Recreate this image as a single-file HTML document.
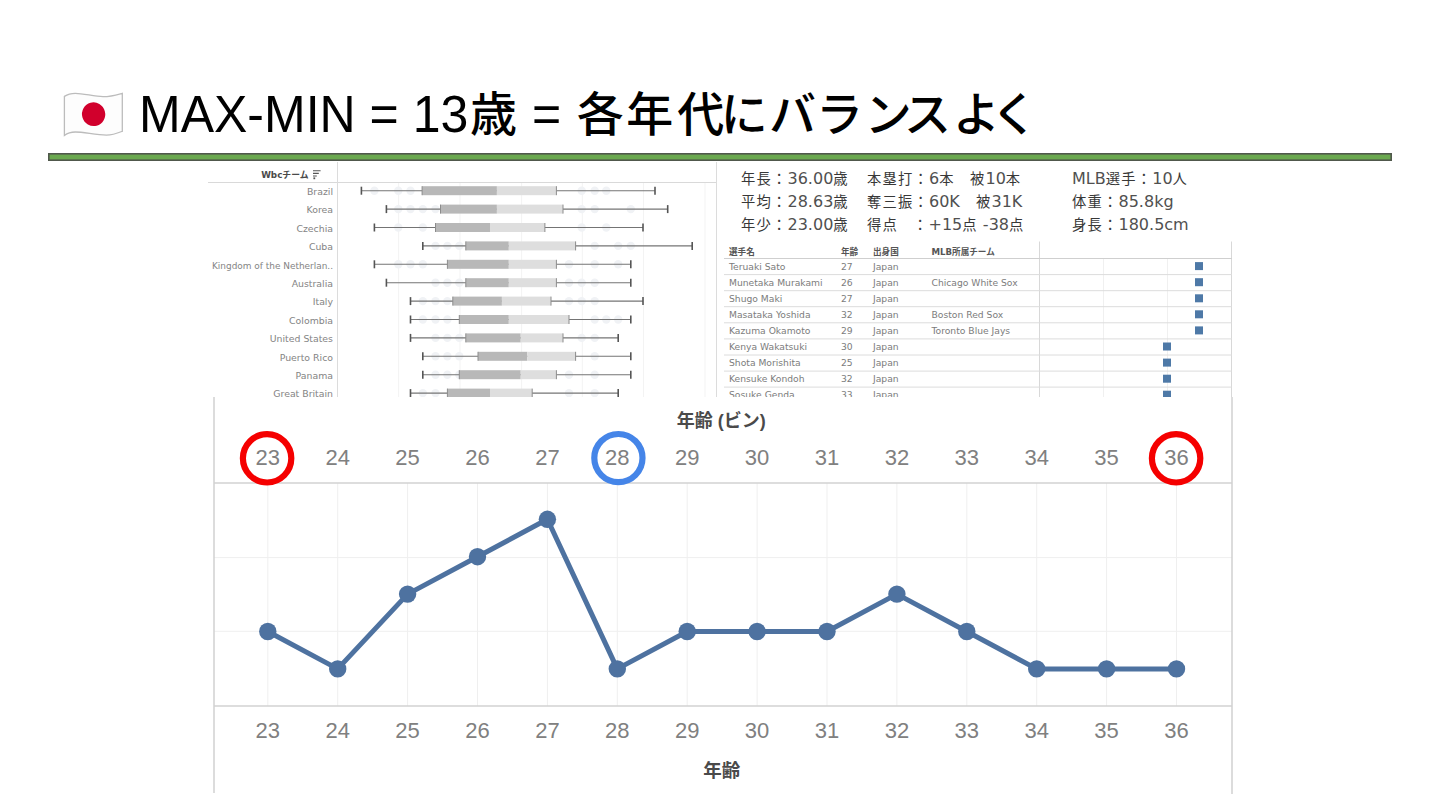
<!DOCTYPE html>
<html lang="ja"><head><meta charset="utf-8"><title>MAX-MIN = 13歳</title>
<style>
html,body{margin:0;padding:0;background:#fff;}
body{width:1440px;height:810px;position:relative;overflow:hidden;font-family:"Liberation Sans", "Noto Sans CJK JP", sans-serif;}
.a{position:absolute;white-space:nowrap;}
.tl{font-family:"Liberation Sans",sans-serif;font-size:50px;color:#000;line-height:1;transform:scaleY(1.03);transform-origin:0 0;}
.tj{font-family:"Liberation Sans","Noto Sans CJK JP",sans-serif;font-size:47px;font-weight:500;color:#000;line-height:1;}
.st{color:#383838;line-height:16px;height:16px;}
.sj{font-family:"Liberation Sans","Noto Sans CJK JP",sans-serif;font-size:14.3px;letter-spacing:1.2px;}
.sl{font-family:"DejaVu Sans",sans-serif;font-size:16px;color:#505050;}
</style></head><body>
<svg class="a" style="left:58px;top:86px" width="72" height="56" viewBox="0 0 72 56">
<path d="M6.4,10.4 Q11,7.3 17.3,7.3 C26,7.3 36,10.7 45,10.7 C54,10.7 60,8.5 64.3,7.3 L64.3,45.3 C60,47 55,49.1 48.4,49.1 C38,49.1 26,46 17.3,46 Q11,46 6.4,49.4 Z" fill="#fdfdfd" stroke="#bcbcbc" stroke-width="1.3"/>
<ellipse cx="35.6" cy="28.2" rx="11.6" ry="11.9" transform="rotate(-15 35.6 28.2)" fill="#d1002c"/>
</svg>
<div class="a tl" style="left:139px;top:89px">MAX-MIN = 13</div>
<div class="a tj" style="left:470px;top:91px">歳</div>
<div class="a tl" style="left:532px;top:89px">=</div>
<span class="a tj" style="left:576.7px;top:91px">各</span><span class="a tj" style="left:626.3px;top:91px">年</span><span class="a tj" style="left:677.3px;top:91px">代</span><span class="a tj" style="left:720.7px;top:91px">に</span><span class="a tj" style="left:769.0px;top:91px">バ</span><span class="a tj" style="left:816.0px;top:91px">ラ</span><span class="a tj" style="left:864.7px;top:91px">ン</span><span class="a tj" style="left:904.0px;top:91px">ス</span><span class="a tj" style="left:953.0px;top:91px">よ</span><span class="a tj" style="left:991.0px;top:91px">く</span>
<svg class="a" style="left:0;top:150px" width="1440" height="14" viewBox="0 150 1440 14"><rect x="48.8" y="153.8" width="1342.4" height="6.4" fill="#6aa84f" stroke="#50584c" stroke-width="1.6"/></svg>
<svg class="a" style="left:0;top:0" width="1440" height="397" viewBox="0 0 1440 397">
<line x1="398.6" y1="183" x2="398.6" y2="397" stroke="#f3f3f3" stroke-width="1"/>
<line x1="460.0" y1="183" x2="460.0" y2="397" stroke="#f3f3f3" stroke-width="1"/>
<line x1="521.6" y1="183" x2="521.6" y2="397" stroke="#f3f3f3" stroke-width="1"/>
<line x1="582.3" y1="183" x2="582.3" y2="397" stroke="#f3f3f3" stroke-width="1"/>
<line x1="643.5" y1="183" x2="643.5" y2="397" stroke="#f3f3f3" stroke-width="1"/>
<line x1="705.0" y1="183" x2="705.0" y2="397" stroke="#f3f3f3" stroke-width="1"/>
<line x1="208" y1="182.5" x2="717" y2="182.5" stroke="#d9d9d9" stroke-width="1"/>
<line x1="337.5" y1="162" x2="337.5" y2="397" stroke="#dcdcdc" stroke-width="1"/>
<line x1="716.5" y1="162" x2="716.5" y2="397" stroke="#dcdcdc" stroke-width="1"/>
<text x="308.5" y="177.6" font-family='"DejaVu Sans","Noto Sans CJK JP",sans-serif' font-size="8.8" font-weight="bold" fill="#4a4a4a" text-anchor="end">Wbcチーム</text>
<path d="M313 170.8h7.6M313 173.4h5.8M313 176h3.8" stroke="#555" stroke-width="1.1"/><rect x="313.4" y="177.4" width="1.8" height="1.8" fill="#555"/>
<circle cx="374.4" cy="190.7" r="4.2" fill="#f0f2f5"/>
<circle cx="398.3" cy="190.7" r="4.2" fill="#f0f2f5"/>
<circle cx="410.5" cy="190.7" r="4.2" fill="#f0f2f5"/>
<circle cx="581.7" cy="190.7" r="4.2" fill="#f0f2f5"/>
<circle cx="594.7" cy="190.7" r="4.2" fill="#f0f2f5"/>
<circle cx="606.3" cy="190.7" r="4.2" fill="#f0f2f5"/>
<text x="333" y="195.0" font-family='"DejaVu Sans",sans-serif' font-size="9.35" fill="#848484" text-anchor="end">Brazil</text>
<line x1="361.4" y1="190.7" x2="655.0" y2="190.7" stroke="#747474" stroke-width="1.1"/>
<rect x="422.1" y="186.2" width="74.8" height="9" fill="#b8b8b8"/>
<rect x="496.9" y="186.2" width="59.5" height="9" fill="#dedede"/>
<line x1="422.1" y1="186.2" x2="422.1" y2="195.2" stroke="#8c8c8c" stroke-width="1"/>
<line x1="556.4" y1="186.2" x2="556.4" y2="195.2" stroke="#8c8c8c" stroke-width="1"/>
<line x1="361.4" y1="186.7" x2="361.4" y2="194.7" stroke="#555" stroke-width="1.6"/>
<line x1="655.0" y1="186.7" x2="655.0" y2="194.7" stroke="#555" stroke-width="1.6"/>
<circle cx="398.3" cy="209.1" r="4.2" fill="#f0f2f5"/>
<circle cx="410.5" cy="209.1" r="4.2" fill="#f0f2f5"/>
<circle cx="422.8" cy="209.1" r="4.2" fill="#f0f2f5"/>
<circle cx="435.5" cy="209.1" r="4.2" fill="#f0f2f5"/>
<circle cx="581.7" cy="209.1" r="4.2" fill="#f0f2f5"/>
<circle cx="594.7" cy="209.1" r="4.2" fill="#f0f2f5"/>
<circle cx="630.8" cy="209.1" r="4.2" fill="#f0f2f5"/>
<text x="333" y="213.4" font-family='"DejaVu Sans",sans-serif' font-size="9.35" fill="#848484" text-anchor="end">Korea</text>
<line x1="386.4" y1="209.1" x2="667.7" y2="209.1" stroke="#747474" stroke-width="1.1"/>
<rect x="440.5" y="204.6" width="56.4" height="9" fill="#b8b8b8"/>
<rect x="496.9" y="204.6" width="66.1" height="9" fill="#dedede"/>
<line x1="440.5" y1="204.6" x2="440.5" y2="213.6" stroke="#8c8c8c" stroke-width="1"/>
<line x1="563.0" y1="204.6" x2="563.0" y2="213.6" stroke="#8c8c8c" stroke-width="1"/>
<line x1="386.4" y1="205.1" x2="386.4" y2="213.1" stroke="#555" stroke-width="1.6"/>
<line x1="667.7" y1="205.1" x2="667.7" y2="213.1" stroke="#555" stroke-width="1.6"/>
<circle cx="398.3" cy="227.5" r="4.2" fill="#f0f2f5"/>
<circle cx="422.8" cy="227.5" r="4.2" fill="#f0f2f5"/>
<circle cx="581.7" cy="227.5" r="4.2" fill="#f0f2f5"/>
<circle cx="606.3" cy="227.5" r="4.2" fill="#f0f2f5"/>
<text x="333" y="231.8" font-family='"DejaVu Sans",sans-serif' font-size="9.35" fill="#848484" text-anchor="end">Czechia</text>
<line x1="374.4" y1="227.5" x2="643.0" y2="227.5" stroke="#747474" stroke-width="1.1"/>
<rect x="435.5" y="223.0" width="54.5" height="9" fill="#b8b8b8"/>
<rect x="490.0" y="223.0" width="54.9" height="9" fill="#dedede"/>
<line x1="435.5" y1="223.0" x2="435.5" y2="232.0" stroke="#8c8c8c" stroke-width="1"/>
<line x1="544.9" y1="223.0" x2="544.9" y2="232.0" stroke="#8c8c8c" stroke-width="1"/>
<line x1="374.4" y1="223.5" x2="374.4" y2="231.5" stroke="#555" stroke-width="1.6"/>
<line x1="643.0" y1="223.5" x2="643.0" y2="231.5" stroke="#555" stroke-width="1.6"/>
<circle cx="435.5" cy="245.9" r="4.2" fill="#f0f2f5"/>
<circle cx="447.4" cy="245.9" r="4.2" fill="#f0f2f5"/>
<circle cx="459.3" cy="245.9" r="4.2" fill="#f0f2f5"/>
<circle cx="594.7" cy="245.9" r="4.2" fill="#f0f2f5"/>
<circle cx="618.2" cy="245.9" r="4.2" fill="#f0f2f5"/>
<circle cx="630.8" cy="245.9" r="4.2" fill="#f0f2f5"/>
<text x="333" y="250.2" font-family='"DejaVu Sans",sans-serif' font-size="9.35" fill="#848484" text-anchor="end">Cuba</text>
<line x1="422.8" y1="245.9" x2="692.2" y2="245.9" stroke="#747474" stroke-width="1.1"/>
<rect x="465.8" y="241.4" width="43.0" height="9" fill="#b8b8b8"/>
<rect x="508.8" y="241.4" width="66.8" height="9" fill="#dedede"/>
<line x1="465.8" y1="241.4" x2="465.8" y2="250.4" stroke="#8c8c8c" stroke-width="1"/>
<line x1="575.6" y1="241.4" x2="575.6" y2="250.4" stroke="#8c8c8c" stroke-width="1"/>
<line x1="422.8" y1="241.9" x2="422.8" y2="249.9" stroke="#555" stroke-width="1.6"/>
<line x1="692.2" y1="241.9" x2="692.2" y2="249.9" stroke="#555" stroke-width="1.6"/>
<circle cx="398.3" cy="264.3" r="4.2" fill="#f0f2f5"/>
<circle cx="410.5" cy="264.3" r="4.2" fill="#f0f2f5"/>
<circle cx="422.8" cy="264.3" r="4.2" fill="#f0f2f5"/>
<circle cx="569.0" cy="264.3" r="4.2" fill="#f0f2f5"/>
<circle cx="594.7" cy="264.3" r="4.2" fill="#f0f2f5"/>
<circle cx="618.2" cy="264.3" r="4.2" fill="#f0f2f5"/>
<text x="333" y="268.6" font-family='"DejaVu Sans",sans-serif' font-size="9.35" fill="#848484" text-anchor="end" textLength="121" lengthAdjust="spacingAndGlyphs">Kingdom of the Netherlan..</text>
<line x1="374.4" y1="264.3" x2="630.8" y2="264.3" stroke="#747474" stroke-width="1.1"/>
<rect x="447.4" y="259.8" width="61.4" height="9" fill="#b8b8b8"/>
<rect x="508.8" y="259.8" width="47.6" height="9" fill="#dedede"/>
<line x1="447.4" y1="259.8" x2="447.4" y2="268.8" stroke="#8c8c8c" stroke-width="1"/>
<line x1="556.4" y1="259.8" x2="556.4" y2="268.8" stroke="#8c8c8c" stroke-width="1"/>
<line x1="374.4" y1="260.3" x2="374.4" y2="268.3" stroke="#555" stroke-width="1.6"/>
<line x1="630.8" y1="260.3" x2="630.8" y2="268.3" stroke="#555" stroke-width="1.6"/>
<circle cx="435.5" cy="282.7" r="4.2" fill="#f0f2f5"/>
<circle cx="447.4" cy="282.7" r="4.2" fill="#f0f2f5"/>
<circle cx="459.3" cy="282.7" r="4.2" fill="#f0f2f5"/>
<circle cx="569.0" cy="282.7" r="4.2" fill="#f0f2f5"/>
<circle cx="581.7" cy="282.7" r="4.2" fill="#f0f2f5"/>
<circle cx="594.7" cy="282.7" r="4.2" fill="#f0f2f5"/>
<text x="333" y="287.0" font-family='"DejaVu Sans",sans-serif' font-size="9.35" fill="#848484" text-anchor="end">Australia</text>
<line x1="386.4" y1="282.7" x2="630.8" y2="282.7" stroke="#747474" stroke-width="1.1"/>
<rect x="465.8" y="278.2" width="43.0" height="9" fill="#b8b8b8"/>
<rect x="508.8" y="278.2" width="47.6" height="9" fill="#dedede"/>
<line x1="465.8" y1="278.2" x2="465.8" y2="287.2" stroke="#8c8c8c" stroke-width="1"/>
<line x1="556.4" y1="278.2" x2="556.4" y2="287.2" stroke="#8c8c8c" stroke-width="1"/>
<line x1="386.4" y1="278.7" x2="386.4" y2="286.7" stroke="#555" stroke-width="1.6"/>
<line x1="630.8" y1="278.7" x2="630.8" y2="286.7" stroke="#555" stroke-width="1.6"/>
<circle cx="422.8" cy="301.1" r="4.2" fill="#f0f2f5"/>
<circle cx="435.5" cy="301.1" r="4.2" fill="#f0f2f5"/>
<circle cx="447.4" cy="301.1" r="4.2" fill="#f0f2f5"/>
<circle cx="569.0" cy="301.1" r="4.2" fill="#f0f2f5"/>
<circle cx="581.7" cy="301.1" r="4.2" fill="#f0f2f5"/>
<circle cx="594.7" cy="301.1" r="4.2" fill="#f0f2f5"/>
<text x="333" y="305.4" font-family='"DejaVu Sans",sans-serif' font-size="9.35" fill="#848484" text-anchor="end">Italy</text>
<line x1="410.5" y1="301.1" x2="643.0" y2="301.1" stroke="#747474" stroke-width="1.1"/>
<rect x="452.8" y="296.6" width="49.1" height="9" fill="#b8b8b8"/>
<rect x="501.9" y="296.6" width="49.1" height="9" fill="#dedede"/>
<line x1="452.8" y1="296.6" x2="452.8" y2="305.6" stroke="#8c8c8c" stroke-width="1"/>
<line x1="551.0" y1="296.6" x2="551.0" y2="305.6" stroke="#8c8c8c" stroke-width="1"/>
<line x1="410.5" y1="297.1" x2="410.5" y2="305.1" stroke="#555" stroke-width="1.6"/>
<line x1="643.0" y1="297.1" x2="643.0" y2="305.1" stroke="#555" stroke-width="1.6"/>
<circle cx="422.8" cy="319.5" r="4.2" fill="#f0f2f5"/>
<circle cx="435.5" cy="319.5" r="4.2" fill="#f0f2f5"/>
<circle cx="447.4" cy="319.5" r="4.2" fill="#f0f2f5"/>
<circle cx="594.7" cy="319.5" r="4.2" fill="#f0f2f5"/>
<circle cx="606.3" cy="319.5" r="4.2" fill="#f0f2f5"/>
<circle cx="618.2" cy="319.5" r="4.2" fill="#f0f2f5"/>
<text x="333" y="323.8" font-family='"DejaVu Sans",sans-serif' font-size="9.35" fill="#848484" text-anchor="end">Colombia</text>
<line x1="410.5" y1="319.5" x2="630.8" y2="319.5" stroke="#747474" stroke-width="1.1"/>
<rect x="459.3" y="315.0" width="49.5" height="9" fill="#b8b8b8"/>
<rect x="508.8" y="315.0" width="60.2" height="9" fill="#dedede"/>
<line x1="459.3" y1="315.0" x2="459.3" y2="324.0" stroke="#8c8c8c" stroke-width="1"/>
<line x1="569.0" y1="315.0" x2="569.0" y2="324.0" stroke="#8c8c8c" stroke-width="1"/>
<line x1="410.5" y1="315.5" x2="410.5" y2="323.5" stroke="#555" stroke-width="1.6"/>
<line x1="630.8" y1="315.5" x2="630.8" y2="323.5" stroke="#555" stroke-width="1.6"/>
<circle cx="435.5" cy="337.9" r="4.2" fill="#f0f2f5"/>
<circle cx="447.4" cy="337.9" r="4.2" fill="#f0f2f5"/>
<circle cx="459.3" cy="337.9" r="4.2" fill="#f0f2f5"/>
<circle cx="581.7" cy="337.9" r="4.2" fill="#f0f2f5"/>
<circle cx="594.7" cy="337.9" r="4.2" fill="#f0f2f5"/>
<text x="333" y="342.2" font-family='"DejaVu Sans",sans-serif' font-size="9.35" fill="#848484" text-anchor="end">United States</text>
<line x1="410.5" y1="337.9" x2="618.2" y2="337.9" stroke="#747474" stroke-width="1.1"/>
<rect x="465.8" y="333.4" width="54.9" height="9" fill="#b8b8b8"/>
<rect x="520.7" y="333.4" width="42.3" height="9" fill="#dedede"/>
<line x1="465.8" y1="333.4" x2="465.8" y2="342.4" stroke="#8c8c8c" stroke-width="1"/>
<line x1="563.0" y1="333.4" x2="563.0" y2="342.4" stroke="#8c8c8c" stroke-width="1"/>
<line x1="410.5" y1="333.9" x2="410.5" y2="341.9" stroke="#555" stroke-width="1.6"/>
<line x1="618.2" y1="333.9" x2="618.2" y2="341.9" stroke="#555" stroke-width="1.6"/>
<circle cx="435.5" cy="356.3" r="4.2" fill="#f0f2f5"/>
<circle cx="447.4" cy="356.3" r="4.2" fill="#f0f2f5"/>
<circle cx="459.3" cy="356.3" r="4.2" fill="#f0f2f5"/>
<circle cx="594.7" cy="356.3" r="4.2" fill="#f0f2f5"/>
<text x="333" y="360.6" font-family='"DejaVu Sans",sans-serif' font-size="9.35" fill="#848484" text-anchor="end">Puerto Rico</text>
<line x1="422.8" y1="356.3" x2="630.8" y2="356.3" stroke="#747474" stroke-width="1.1"/>
<rect x="478.0" y="351.8" width="49.2" height="9" fill="#b8b8b8"/>
<rect x="527.2" y="351.8" width="48.4" height="9" fill="#dedede"/>
<line x1="478.0" y1="351.8" x2="478.0" y2="360.8" stroke="#8c8c8c" stroke-width="1"/>
<line x1="575.6" y1="351.8" x2="575.6" y2="360.8" stroke="#8c8c8c" stroke-width="1"/>
<line x1="422.8" y1="352.3" x2="422.8" y2="360.3" stroke="#555" stroke-width="1.6"/>
<line x1="630.8" y1="352.3" x2="630.8" y2="360.3" stroke="#555" stroke-width="1.6"/>
<circle cx="435.5" cy="374.7" r="4.2" fill="#f0f2f5"/>
<circle cx="447.4" cy="374.7" r="4.2" fill="#f0f2f5"/>
<circle cx="459.3" cy="374.7" r="4.2" fill="#f0f2f5"/>
<circle cx="569.0" cy="374.7" r="4.2" fill="#f0f2f5"/>
<circle cx="594.7" cy="374.7" r="4.2" fill="#f0f2f5"/>
<text x="333" y="379.0" font-family='"DejaVu Sans",sans-serif' font-size="9.35" fill="#848484" text-anchor="end">Panama</text>
<line x1="422.8" y1="374.7" x2="630.8" y2="374.7" stroke="#747474" stroke-width="1.1"/>
<rect x="459.3" y="370.2" width="61.4" height="9" fill="#b8b8b8"/>
<rect x="520.7" y="370.2" width="35.7" height="9" fill="#dedede"/>
<line x1="459.3" y1="370.2" x2="459.3" y2="379.2" stroke="#8c8c8c" stroke-width="1"/>
<line x1="556.4" y1="370.2" x2="556.4" y2="379.2" stroke="#8c8c8c" stroke-width="1"/>
<line x1="422.8" y1="370.7" x2="422.8" y2="378.7" stroke="#555" stroke-width="1.6"/>
<line x1="630.8" y1="370.7" x2="630.8" y2="378.7" stroke="#555" stroke-width="1.6"/>
<circle cx="422.8" cy="393.1" r="4.2" fill="#f0f2f5"/>
<circle cx="435.5" cy="393.1" r="4.2" fill="#f0f2f5"/>
<circle cx="569.0" cy="393.1" r="4.2" fill="#f0f2f5"/>
<circle cx="594.7" cy="393.1" r="4.2" fill="#f0f2f5"/>
<text x="333" y="397.4" font-family='"DejaVu Sans",sans-serif' font-size="9.35" fill="#848484" text-anchor="end">Great Britain</text>
<line x1="410.5" y1="393.1" x2="618.2" y2="393.1" stroke="#747474" stroke-width="1.1"/>
<rect x="447.4" y="388.6" width="42.6" height="9" fill="#b8b8b8"/>
<rect x="490.0" y="388.6" width="42.2" height="9" fill="#dedede"/>
<line x1="447.4" y1="388.6" x2="447.4" y2="397.6" stroke="#8c8c8c" stroke-width="1"/>
<line x1="532.2" y1="388.6" x2="532.2" y2="397.6" stroke="#8c8c8c" stroke-width="1"/>
<line x1="410.5" y1="389.1" x2="410.5" y2="397.1" stroke="#555" stroke-width="1.6"/>
<line x1="618.2" y1="389.1" x2="618.2" y2="397.1" stroke="#555" stroke-width="1.6"/>
<line x1="1039.5" y1="241.5" x2="1039.5" y2="397" stroke="#d8d8d8" stroke-width="1"/>
<line x1="1231.5" y1="241.5" x2="1231.5" y2="397" stroke="#d8d8d8" stroke-width="1"/>
<line x1="1103.5" y1="259" x2="1103.5" y2="397" stroke="#f0f0f0" stroke-width="1"/>
<line x1="1167.5" y1="259" x2="1167.5" y2="397" stroke="#f0f0f0" stroke-width="1"/>
<text x="729.0" y="255" font-family='"DejaVu Sans","Noto Sans CJK JP",sans-serif' font-size="8.6" font-weight="bold" fill="#555555">選手名</text>
<text x="841.0" y="255" font-family='"DejaVu Sans","Noto Sans CJK JP",sans-serif' font-size="8.6" font-weight="bold" fill="#555555">年齢</text>
<text x="873.0" y="255" font-family='"DejaVu Sans","Noto Sans CJK JP",sans-serif' font-size="8.6" font-weight="bold" fill="#555555">出身国</text>
<text x="931.5" y="255" font-family='"DejaVu Sans","Noto Sans CJK JP",sans-serif' font-size="8.6" font-weight="bold" fill="#555555">MLB所属チーム</text>
<line x1="724" y1="258.5" x2="1232" y2="258.5" stroke="#cfcfcf" stroke-width="1"/>
<line x1="724" y1="274.6" x2="1232" y2="274.6" stroke="#dcdcdc" stroke-width="1"/>
<text x="729.0" y="269.7" font-family='"DejaVu Sans",sans-serif' font-size="9.2" fill="#7c7c7c">Teruaki Sato</text>
<text x="841.0" y="269.7" font-family='"DejaVu Sans",sans-serif' font-size="9.2" fill="#7c7c7c">27</text>
<text x="873.0" y="269.7" font-family='"DejaVu Sans",sans-serif' font-size="9.2" fill="#7c7c7c">Japan</text>
<rect x="1195" y="262.1" width="8" height="8" fill="#4e79a7"/>
<line x1="724" y1="290.7" x2="1232" y2="290.7" stroke="#dcdcdc" stroke-width="1"/>
<text x="729.0" y="285.8" font-family='"DejaVu Sans",sans-serif' font-size="9.2" fill="#7c7c7c">Munetaka Murakami</text>
<text x="841.0" y="285.8" font-family='"DejaVu Sans",sans-serif' font-size="9.2" fill="#7c7c7c">26</text>
<text x="873.0" y="285.8" font-family='"DejaVu Sans",sans-serif' font-size="9.2" fill="#7c7c7c">Japan</text>
<text x="931.5" y="285.8" font-family='"DejaVu Sans",sans-serif' font-size="9.2" fill="#7c7c7c">Chicago White Sox</text>
<rect x="1195" y="278.2" width="8" height="8" fill="#4e79a7"/>
<line x1="724" y1="306.7" x2="1232" y2="306.7" stroke="#dcdcdc" stroke-width="1"/>
<text x="729.0" y="301.9" font-family='"DejaVu Sans",sans-serif' font-size="9.2" fill="#7c7c7c">Shugo Maki</text>
<text x="841.0" y="301.9" font-family='"DejaVu Sans",sans-serif' font-size="9.2" fill="#7c7c7c">27</text>
<text x="873.0" y="301.9" font-family='"DejaVu Sans",sans-serif' font-size="9.2" fill="#7c7c7c">Japan</text>
<rect x="1195" y="294.3" width="8" height="8" fill="#4e79a7"/>
<line x1="724" y1="322.8" x2="1232" y2="322.8" stroke="#dcdcdc" stroke-width="1"/>
<text x="729.0" y="317.9" font-family='"DejaVu Sans",sans-serif' font-size="9.2" fill="#7c7c7c">Masataka Yoshida</text>
<text x="841.0" y="317.9" font-family='"DejaVu Sans",sans-serif' font-size="9.2" fill="#7c7c7c">32</text>
<text x="873.0" y="317.9" font-family='"DejaVu Sans",sans-serif' font-size="9.2" fill="#7c7c7c">Japan</text>
<text x="931.5" y="317.9" font-family='"DejaVu Sans",sans-serif' font-size="9.2" fill="#7c7c7c">Boston Red Sox</text>
<rect x="1195" y="310.3" width="8" height="8" fill="#4e79a7"/>
<line x1="724" y1="338.9" x2="1232" y2="338.9" stroke="#dcdcdc" stroke-width="1"/>
<text x="729.0" y="334.0" font-family='"DejaVu Sans",sans-serif' font-size="9.2" fill="#7c7c7c">Kazuma Okamoto</text>
<text x="841.0" y="334.0" font-family='"DejaVu Sans",sans-serif' font-size="9.2" fill="#7c7c7c">29</text>
<text x="873.0" y="334.0" font-family='"DejaVu Sans",sans-serif' font-size="9.2" fill="#7c7c7c">Japan</text>
<text x="931.5" y="334.0" font-family='"DejaVu Sans",sans-serif' font-size="9.2" fill="#7c7c7c">Toronto Blue Jays</text>
<rect x="1195" y="326.4" width="8" height="8" fill="#4e79a7"/>
<line x1="724" y1="355.0" x2="1232" y2="355.0" stroke="#dcdcdc" stroke-width="1"/>
<text x="729.0" y="350.1" font-family='"DejaVu Sans",sans-serif' font-size="9.2" fill="#7c7c7c">Kenya Wakatsuki</text>
<text x="841.0" y="350.1" font-family='"DejaVu Sans",sans-serif' font-size="9.2" fill="#7c7c7c">30</text>
<text x="873.0" y="350.1" font-family='"DejaVu Sans",sans-serif' font-size="9.2" fill="#7c7c7c">Japan</text>
<rect x="1163" y="342.5" width="8" height="8" fill="#4e79a7"/>
<line x1="724" y1="371.1" x2="1232" y2="371.1" stroke="#dcdcdc" stroke-width="1"/>
<text x="729.0" y="366.2" font-family='"DejaVu Sans",sans-serif' font-size="9.2" fill="#7c7c7c">Shota Morishita</text>
<text x="841.0" y="366.2" font-family='"DejaVu Sans",sans-serif' font-size="9.2" fill="#7c7c7c">25</text>
<text x="873.0" y="366.2" font-family='"DejaVu Sans",sans-serif' font-size="9.2" fill="#7c7c7c">Japan</text>
<rect x="1163" y="358.6" width="8" height="8" fill="#4e79a7"/>
<line x1="724" y1="387.1" x2="1232" y2="387.1" stroke="#dcdcdc" stroke-width="1"/>
<text x="729.0" y="382.3" font-family='"DejaVu Sans",sans-serif' font-size="9.2" fill="#7c7c7c">Kensuke Kondoh</text>
<text x="841.0" y="382.3" font-family='"DejaVu Sans",sans-serif' font-size="9.2" fill="#7c7c7c">32</text>
<text x="873.0" y="382.3" font-family='"DejaVu Sans",sans-serif' font-size="9.2" fill="#7c7c7c">Japan</text>
<rect x="1163" y="374.7" width="8" height="8" fill="#4e79a7"/>
<text x="729.0" y="398.3" font-family='"DejaVu Sans",sans-serif' font-size="9.2" fill="#7c7c7c">Sosuke Genda</text>
<text x="841.0" y="398.3" font-family='"DejaVu Sans",sans-serif' font-size="9.2" fill="#7c7c7c">33</text>
<text x="873.0" y="398.3" font-family='"DejaVu Sans",sans-serif' font-size="9.2" fill="#7c7c7c">Japan</text>
<rect x="1163" y="390.7" width="8" height="8" fill="#4e79a7"/>
</svg>
<div class="a st" style="left:741px;top:171px"><span class="sj">年長：</span><span class="sl">36.00</span><span class="sj">歳</span></div>
<div class="a st" style="left:867px;top:171px"><span class="sj">本塁打：</span><span class="sl">6</span><span class="sj">本</span></div>
<div class="a st" style="left:970px;top:171px"><span class="sj">被</span><span class="sl">10</span><span class="sj">本</span></div>
<div class="a st" style="left:1072px;top:171px"><span class="sl">MLB</span><span class="sj">選手：</span><span class="sl">10</span><span class="sj">人</span></div>
<div class="a st" style="left:741px;top:194px"><span class="sj">平均：</span><span class="sl">28.63</span><span class="sj">歳</span></div>
<div class="a st" style="left:867px;top:194px"><span class="sj">奪三振：</span><span class="sl">60K</span></div>
<div class="a st" style="left:976px;top:194px"><span class="sj">被</span><span class="sl">31K</span></div>
<div class="a st" style="left:1072px;top:194px"><span class="sj">体重：</span><span class="sl">85.8kg</span></div>
<div class="a st" style="left:741px;top:217px"><span class="sj">年少：</span><span class="sl">23.00</span><span class="sj">歳</span></div>
<div class="a st" style="left:867px;top:217px"><span class="sj">得点</span></div>
<div class="a st" style="left:913px;top:217px"><span class="sj">：</span><span class="sl">+15</span><span class="sj">点</span><span class="sl"> -38</span><span class="sj">点</span></div>
<div class="a st" style="left:1072px;top:217px"><span class="sj">身長：</span><span class="sl">180.5cm</span></div>
<svg class="a" style="left:0;top:0" width="1440" height="810" viewBox="0 0 1440 810">
<rect x="214" y="397" width="1018" height="413" fill="#fff"/>
<line x1="267.8" y1="483" x2="267.8" y2="706" stroke="#efefef" stroke-width="1"/>
<line x1="337.7" y1="483" x2="337.7" y2="706" stroke="#efefef" stroke-width="1"/>
<line x1="407.6" y1="483" x2="407.6" y2="706" stroke="#efefef" stroke-width="1"/>
<line x1="477.5" y1="483" x2="477.5" y2="706" stroke="#efefef" stroke-width="1"/>
<line x1="547.4" y1="483" x2="547.4" y2="706" stroke="#efefef" stroke-width="1"/>
<line x1="617.3" y1="483" x2="617.3" y2="706" stroke="#efefef" stroke-width="1"/>
<line x1="687.2" y1="483" x2="687.2" y2="706" stroke="#efefef" stroke-width="1"/>
<line x1="757.1" y1="483" x2="757.1" y2="706" stroke="#efefef" stroke-width="1"/>
<line x1="827.0" y1="483" x2="827.0" y2="706" stroke="#efefef" stroke-width="1"/>
<line x1="896.9" y1="483" x2="896.9" y2="706" stroke="#efefef" stroke-width="1"/>
<line x1="966.8" y1="483" x2="966.8" y2="706" stroke="#efefef" stroke-width="1"/>
<line x1="1036.7" y1="483" x2="1036.7" y2="706" stroke="#efefef" stroke-width="1"/>
<line x1="1106.6" y1="483" x2="1106.6" y2="706" stroke="#efefef" stroke-width="1"/>
<line x1="1176.5" y1="483" x2="1176.5" y2="706" stroke="#efefef" stroke-width="1"/>
<line x1="214" y1="557.6" x2="1232" y2="557.6" stroke="#efefef" stroke-width="1"/>
<line x1="214" y1="631.3" x2="1232" y2="631.3" stroke="#efefef" stroke-width="1"/>
<line x1="214" y1="483" x2="1232" y2="483" stroke="#d2d2d2" stroke-width="1.5"/>
<line x1="214" y1="706" x2="1232" y2="706" stroke="#d2d2d2" stroke-width="1.5"/>
<line x1="214" y1="397" x2="214" y2="793" stroke="#d0d0d0" stroke-width="1.5"/>
<line x1="1232" y1="397" x2="1232" y2="794" stroke="#d0d0d0" stroke-width="1.5"/>
<text x="267.8" y="465.0" font-family='"Liberation Sans",sans-serif' font-size="22" fill="#808080" text-anchor="middle">23</text>
<text x="267.8" y="738.2" font-family='"Liberation Sans",sans-serif' font-size="22" fill="#808080" text-anchor="middle">23</text>
<text x="337.7" y="465.0" font-family='"Liberation Sans",sans-serif' font-size="22" fill="#808080" text-anchor="middle">24</text>
<text x="337.7" y="738.2" font-family='"Liberation Sans",sans-serif' font-size="22" fill="#808080" text-anchor="middle">24</text>
<text x="407.6" y="465.0" font-family='"Liberation Sans",sans-serif' font-size="22" fill="#808080" text-anchor="middle">25</text>
<text x="407.6" y="738.2" font-family='"Liberation Sans",sans-serif' font-size="22" fill="#808080" text-anchor="middle">25</text>
<text x="477.5" y="465.0" font-family='"Liberation Sans",sans-serif' font-size="22" fill="#808080" text-anchor="middle">26</text>
<text x="477.5" y="738.2" font-family='"Liberation Sans",sans-serif' font-size="22" fill="#808080" text-anchor="middle">26</text>
<text x="547.4" y="465.0" font-family='"Liberation Sans",sans-serif' font-size="22" fill="#808080" text-anchor="middle">27</text>
<text x="547.4" y="738.2" font-family='"Liberation Sans",sans-serif' font-size="22" fill="#808080" text-anchor="middle">27</text>
<text x="617.3" y="465.0" font-family='"Liberation Sans",sans-serif' font-size="22" fill="#808080" text-anchor="middle">28</text>
<text x="617.3" y="738.2" font-family='"Liberation Sans",sans-serif' font-size="22" fill="#808080" text-anchor="middle">28</text>
<text x="687.2" y="465.0" font-family='"Liberation Sans",sans-serif' font-size="22" fill="#808080" text-anchor="middle">29</text>
<text x="687.2" y="738.2" font-family='"Liberation Sans",sans-serif' font-size="22" fill="#808080" text-anchor="middle">29</text>
<text x="757.1" y="465.0" font-family='"Liberation Sans",sans-serif' font-size="22" fill="#808080" text-anchor="middle">30</text>
<text x="757.1" y="738.2" font-family='"Liberation Sans",sans-serif' font-size="22" fill="#808080" text-anchor="middle">30</text>
<text x="827.0" y="465.0" font-family='"Liberation Sans",sans-serif' font-size="22" fill="#808080" text-anchor="middle">31</text>
<text x="827.0" y="738.2" font-family='"Liberation Sans",sans-serif' font-size="22" fill="#808080" text-anchor="middle">31</text>
<text x="896.9" y="465.0" font-family='"Liberation Sans",sans-serif' font-size="22" fill="#808080" text-anchor="middle">32</text>
<text x="896.9" y="738.2" font-family='"Liberation Sans",sans-serif' font-size="22" fill="#808080" text-anchor="middle">32</text>
<text x="966.8" y="465.0" font-family='"Liberation Sans",sans-serif' font-size="22" fill="#808080" text-anchor="middle">33</text>
<text x="966.8" y="738.2" font-family='"Liberation Sans",sans-serif' font-size="22" fill="#808080" text-anchor="middle">33</text>
<text x="1036.7" y="465.0" font-family='"Liberation Sans",sans-serif' font-size="22" fill="#808080" text-anchor="middle">34</text>
<text x="1036.7" y="738.2" font-family='"Liberation Sans",sans-serif' font-size="22" fill="#808080" text-anchor="middle">34</text>
<text x="1106.6" y="465.0" font-family='"Liberation Sans",sans-serif' font-size="22" fill="#808080" text-anchor="middle">35</text>
<text x="1106.6" y="738.2" font-family='"Liberation Sans",sans-serif' font-size="22" fill="#808080" text-anchor="middle">35</text>
<text x="1176.5" y="465.0" font-family='"Liberation Sans",sans-serif' font-size="22" fill="#808080" text-anchor="middle">36</text>
<text x="1176.5" y="738.2" font-family='"Liberation Sans",sans-serif' font-size="22" fill="#808080" text-anchor="middle">36</text>
<text x="721.2" y="426.5" font-family='"Liberation Sans","Noto Sans CJK JP",sans-serif' font-size="18" font-weight="bold" fill="#4a4a4a" text-anchor="middle">年齢 (ビン)</text>
<text x="721.7" y="776.5" font-family='"Liberation Sans","Noto Sans CJK JP",sans-serif' font-size="18.5" font-weight="bold" fill="#4a4a4a" text-anchor="middle">年齢</text>
<polyline points="267.8,631.5 337.7,668.9 407.6,594.1 477.5,556.7 547.4,519.3 617.3,668.9 687.2,631.5 757.1,631.5 827.0,631.5 896.9,594.1 966.8,631.5 1036.7,668.9 1106.6,668.9 1176.5,668.9" fill="none" stroke="#4e72a0" stroke-width="5" stroke-linejoin="round"/>
<circle cx="267.8" cy="631.5" r="8.7" fill="#4e72a0"/>
<circle cx="337.7" cy="668.9" r="8.7" fill="#4e72a0"/>
<circle cx="407.6" cy="594.1" r="8.7" fill="#4e72a0"/>
<circle cx="477.5" cy="556.7" r="8.7" fill="#4e72a0"/>
<circle cx="547.4" cy="519.3" r="8.7" fill="#4e72a0"/>
<circle cx="617.3" cy="668.9" r="8.7" fill="#4e72a0"/>
<circle cx="687.2" cy="631.5" r="8.7" fill="#4e72a0"/>
<circle cx="757.1" cy="631.5" r="8.7" fill="#4e72a0"/>
<circle cx="827.0" cy="631.5" r="8.7" fill="#4e72a0"/>
<circle cx="896.9" cy="594.1" r="8.7" fill="#4e72a0"/>
<circle cx="966.8" cy="631.5" r="8.7" fill="#4e72a0"/>
<circle cx="1036.7" cy="668.9" r="8.7" fill="#4e72a0"/>
<circle cx="1106.6" cy="668.9" r="8.7" fill="#4e72a0"/>
<circle cx="1176.5" cy="668.9" r="8.7" fill="#4e72a0"/>
<circle cx="267.1" cy="458.3" r="24.2" fill="none" stroke="#f50000" stroke-width="6.2"/>
<circle cx="1176.1" cy="458.3" r="24.2" fill="none" stroke="#f50000" stroke-width="6.2"/>
<circle cx="618.4" cy="458.1" r="24.1" fill="none" stroke="#4585e8" stroke-width="6.2"/>
</svg>
</body></html>
